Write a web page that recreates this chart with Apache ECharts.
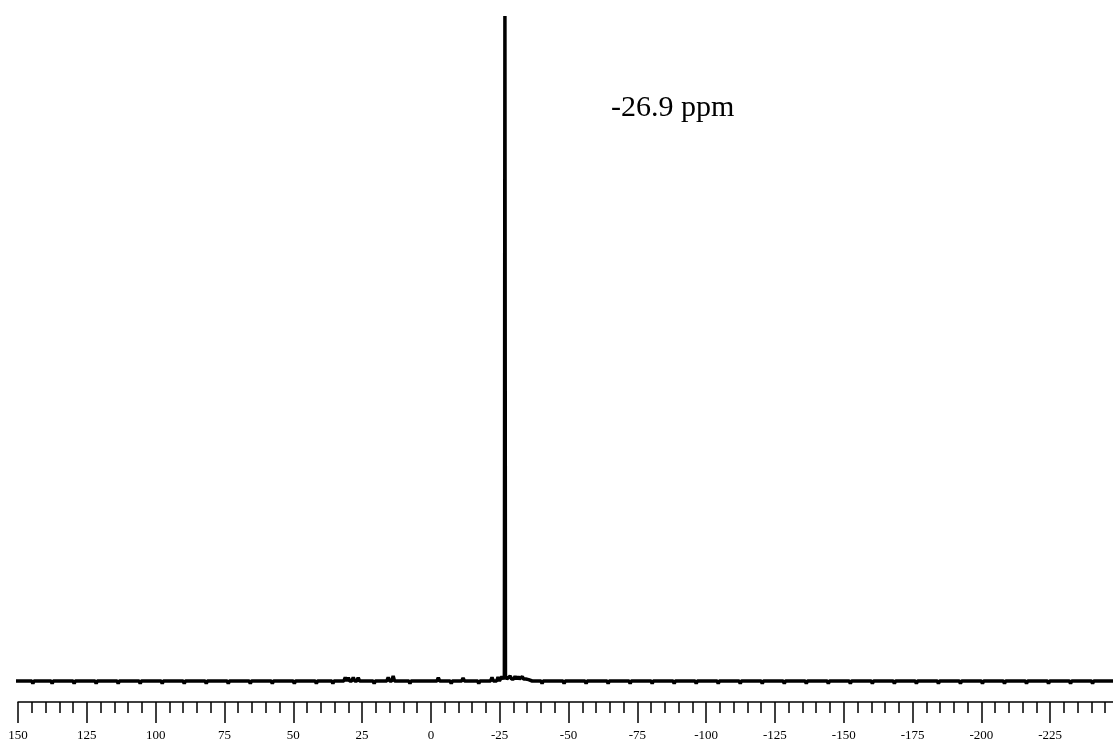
<!DOCTYPE html>
<html>
<head>
<meta charset="utf-8">
<script src="https://cdn.jsdelivr.net/npm/echarts@6/dist/echarts.min.js"></script>
<style>
html,body{margin:0;padding:0;background:#fff;}
#chart{width:1113px;height:743px;}
</style>
</head>
<body>
<div id="chart"></div>
<script>
// Chemical shift (ppm) and intensity (peak = 100)
const ppm = [
  151, 145, 144.6, 144.2, 138, 137.6, 137.2, 130, 129.6, 129.2, 122, 121.6, 121.2,
  114, 113.6, 113.2, 106, 105.6, 105.2, 98, 97.6, 97.2, 90, 89.6, 89.2,
  82, 81.6, 81.2, 74, 73.6, 73.2, 66, 65.6, 65.2, 58, 57.6, 57.2, 50, 49.6, 49.2,
  42, 41.6, 41.2, 36, 35.6, 35.2,
  31.6, 31.1, 30.6, 30.0, 29.5, 28.7, 28.2, 27.7, 26.9, 26.4, 25.9,
  21, 20.6, 20.2, 16.0, 15.5, 15.0, 14.2, 13.7, 13.2, 8, 7.6, 7.2,
  -2.2, -2.7, -3.2, -7, -7.4, -7.8, -11.2, -11.7, -12.2, -17, -17.4, -17.8,
  -21.7, -22.2, -22.7, -23.9, -24.4, -24.9, -25.4, -25.8, -26.3,
  -26.7, -26.9, -27.1,
  -27.6, -28.3, -28.8, -29.3, -30.1, -30.6, -31.1, -31.7, -32.2, -32.7, -33.2, -33.7, -34.5, -35.0, -35.5, -36.1, -36.8,
  -40, -40.4, -40.8, -48, -48.4, -48.8, -56, -56.4, -56.8, -64, -64.4, -64.8,
  -72, -72.4, -72.8, -80, -80.4, -80.8, -88, -88.4, -88.8, -96, -96.4, -96.8,
  -104, -104.4, -104.8, -112, -112.4, -112.8, -120, -120.4, -120.8, -128, -128.4, -128.8,
  -136, -136.4, -136.8, -144, -144.4, -144.8, -152, -152.4, -152.8, -160, -160.4, -160.8,
  -168, -168.4, -168.8, -176, -176.4, -176.8, -184, -184.4, -184.8, -192, -192.4, -192.8,
  -200, -200.4, -200.8, -208, -208.4, -208.8, -216, -216.4, -216.8, -224, -224.4, -224.8,
  -232, -232.4, -232.8, -240, -240.4, -240.8, -248
];
const intensity = [
  0, 0, -0.4, 0, 0, -0.4, 0, 0, -0.4, 0, 0, -0.4, 0,
  0, -0.4, 0, 0, -0.4, 0, 0, -0.4, 0, 0, -0.4, 0,
  0, -0.4, 0, 0, -0.4, 0, 0, -0.4, 0, 0, -0.4, 0, 0, -0.4, 0,
  0, -0.4, 0, 0, -0.4, 0,
  0, 0.55, 0, 0.5, 0, 0, 0.55, 0, 0, 0.5, 0,
  0, -0.4, 0, 0, 0.55, 0, 0, 0.75, 0, 0, -0.4, 0,
  0, 0.5, 0, 0, -0.4, 0, 0, 0.45, 0, 0, -0.4, 0,
  0, 0.55, 0, 0, 0.6, 0, 0, 0.65, 0.3,
  0.7, 100, 0.7,
  0.3, 0.3, 0.75, 0.3, 0.3, 0.7, 0.3, 0.65, 0.3, 0.3, 0.65, 0.3, 0.3, 0.55, 0.2, 0.3, 0,
  0, -0.4, 0, 0, -0.4, 0, 0, -0.4, 0, 0, -0.4, 0,
  0, -0.4, 0, 0, -0.4, 0, 0, -0.4, 0, 0, -0.4, 0,
  0, -0.4, 0, 0, -0.4, 0, 0, -0.4, 0, 0, -0.4, 0,
  0, -0.4, 0, 0, -0.4, 0, 0, -0.4, 0, 0, -0.4, 0,
  0, -0.4, 0, 0, -0.4, 0, 0, -0.4, 0, 0, -0.4, 0,
  0, -0.4, 0, 0, -0.4, 0, 0, -0.4, 0, 0, -0.4, 0,
  0, -0.4, 0, 0, -0.4, 0, 0
];
const annotation = '-26.9 ppm';

const data = ppm.map((p, i) => [p, intensity[i]]);
const chart = echarts.init(document.getElementById('chart'), null, {renderer: 'canvas'});
chart.setOption({
  animation: false,
  backgroundColor: '#fff',
  grid: {left: 18, width: 1101, top: 16, bottom: 41, containLabel: false, outerBoundsMode: 'none'},
  xAxis: {
    type: 'value', inverse: true, min: -250, max: 150, interval: 25,
    axisLine: {show: true, onZero: false, lineStyle: {color: '#000', width: 1.5}},
    axisTick: {show: true, length: 21, lineStyle: {color: '#000', width: 1.5}},
    minorTick: {show: true, splitNumber: 5, length: 11, lineStyle: {color: '#000', width: 1.5}},
    splitLine: {show: false},
    axisLabel: {
      showMinLabel: false, margin: 27, color: '#000',
      fontFamily: 'Liberation Serif', fontSize: 13
    }
  },
  yAxis: {type: 'value', min: -3.16, max: 100, show: false},
  graphic: [{
    type: 'text', left: 611, top: 93,
    style: {text: annotation, font: '30px "Liberation Serif"', fill: '#000'}
  }],
  series: [{
    type: 'line', data: data, showSymbol: false, symbol: 'none',
    lineStyle: {color: '#000', width: 3.5}
  }]
});
</script>
</body>
</html>
